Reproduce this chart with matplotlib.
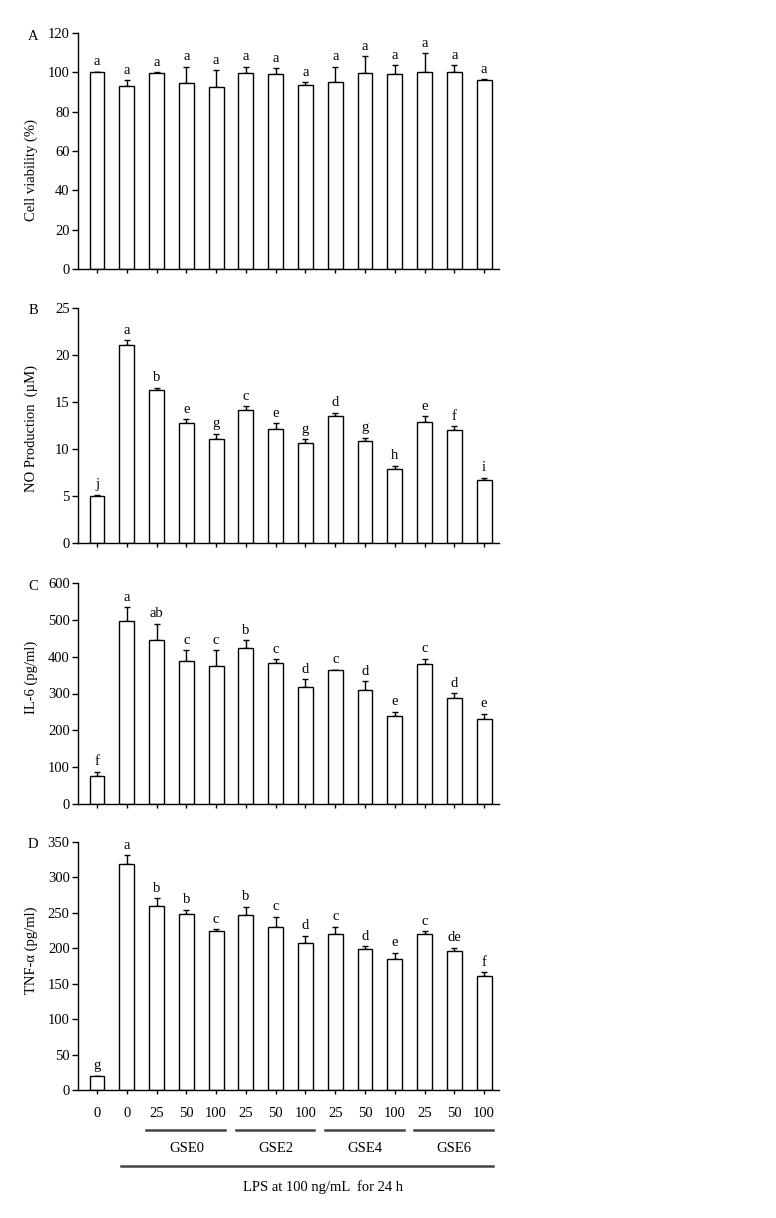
import numpy as np
import matplotlib
matplotlib.use("Agg")
import matplotlib.pyplot as plt

plt.rcParams['font.family'] = ['Liberation Serif', 'DejaVu Serif']

# data
dose_labels = ["0", "0", "25", "50", "100", "25", "50", "100",
               "25", "50", "100", "25", "50", "100"]
groups = ["GSE0", "GSE2", "GSE4", "GSE6"]

viab = [100, 93.0, 99.5, 94.6, 92.7, 99.5, 99.1, 93.5, 94.9, 99.8, 99.1, 100.3, 100.3, 96.1]
viab_err = [0.3, 2.9, 0.5, 8.3, 8.3, 3.4, 2.9, 1.4, 8.0, 8.3, 4.6, 9.5, 3.4, 0.5]
viab_let = ["a"] * 14

no = [5.04, 21.1, 16.3, 12.75, 11.1, 14.2, 12.15, 10.6, 13.5, 10.85, 7.9, 12.9, 12.05, 6.65]
no_err = [0.1, 0.45, 0.2, 0.4, 0.5, 0.35, 0.6, 0.45, 0.35, 0.35, 0.3, 0.6, 0.35, 0.3]
no_let = ["j", "a", "b", "e", "g", "c", "e", "g", "d", "g", "h", "e", "f", "i"]

il6 = [75, 498, 446, 389, 375, 424, 384, 317, 363, 309, 239, 381, 289, 231]
il6_err = [13, 36, 44, 29, 43, 20, 9, 22, 2, 25, 12, 14, 12, 14]
il6_let = ["f", "a", "ab", "c", "c", "b", "c", "d", "c", "d", "e", "c", "d", "e"]

tnf = [19.8, 319, 260, 248.6, 224.6, 247.6, 230.7, 207, 220.8, 199, 185, 219.9, 195.9, 160.5]
tnf_err = [0.5, 12, 10.5, 5.6, 2.4, 11, 14, 10.5, 9.4, 4.2, 8.5, 4.2, 4.7, 5.6]
tnf_let = ["g", "a", "b", "b", "c", "b", "c", "d", "c", "d", "e", "c", "de", "f"]

panels = [
    ("A", "Cell viability (%)", viab, viab_err, viab_let, 120, 20),
    ("B", "NO Production  (\u00b5M)", no, no_err, no_let, 25, 5),
    ("C", "IL-6 (pg/ml)", il6, il6_err, il6_let, 600, 100),
    ("D", "TNF-\u03b1 (pg/ml)", tnf, tnf_err, tnf_let, 350, 50),
]

W, H = 776, 1218
# axes boxes in pixels: top, bottom ; label y centre
boxes = [(33, 269, 170), (308, 543, 428), (583, 804, 677), (842, 1090, 950)]
panel_lab_y = [37, 311, 587, 845]
left_px, right_px = 78, 499
fs = 10.5

fig = plt.figure(figsize=(W / 100, H / 100), dpi=100)
x = np.arange(len(dose_labels))

axes = []
for (name, ylab, vals, err, lets, ymax, step), (top, bot, ly), ply in zip(panels, boxes, panel_lab_y):
    ax = fig.add_axes([left_px / W, 1 - bot / H, (right_px - left_px) / W, (bot - top) / H])
    ax.bar(x, vals, width=0.5, color="white", edgecolor="black", linewidth=1, zorder=2)
    ax.errorbar(x, vals, yerr=[np.zeros(len(err)), err], fmt="none", ecolor="black",
                elinewidth=1, capsize=2.5, capthick=1, zorder=1)
    for xi, v, e, l in zip(x, vals, err, lets):
        ax.annotate(l, (xi, v + e), xytext=(0, 2.5), textcoords="offset points",
                    ha="center", va="bottom", fontsize=fs)
    ax.set_xlim(-0.64, 13.5)
    ax.set_ylim(0, ymax)
    ax.set_yticks(np.arange(0, ymax + step / 2, step))
    ax.spines["top"].set_visible(False)
    ax.spines["right"].set_visible(False)
    ax.spines["left"].set_linewidth(1)
    ax.spines["bottom"].set_linewidth(1)
    ax.tick_params(axis="y", direction="out", length=4, width=1, pad=2, labelsize=fs)
    ax.tick_params(axis="x", direction="out", length=3, width=1, labelsize=fs)
    ax.set_xticks(x)
    ax.set_xticklabels([])
    fig.text(31 / W, 1 - ly / H, ylab, rotation=90, ha="center", va="center", fontsize=fs)
    fig.text(33 / W, 1 - ply / H, name, ha="center", va="center", fontsize=fs)
    axes.append(ax)

axd = axes[-1]
axd.set_xticklabels(dose_labels)
axd.tick_params(axis="x", pad=9)

# group annotation under the last panel
bot = boxes[-1][1]
hgt = boxes[-1][1] - boxes[-1][0]
tr = axd.get_xaxis_transform()
def yfrac(ypx):
    return (bot - ypx) / hgt

for k, g in enumerate(groups):
    c = 3 + 3 * k
    axd.plot([c - 1.35, c + 1.3], [yfrac(1130)] * 2, transform=tr, color="#444444",
             lw=1.8, clip_on=False)
    axd.text(c, yfrac(1148), g, transform=tr, ha="center", va="center", fontsize=fs)
axd.plot([0.8, 13.3], [yfrac(1166)] * 2, transform=tr, color="#444444", lw=1.8, clip_on=False)
axd.text(7.6, yfrac(1187), "LPS at 100 ng/mL  for 24 h", transform=tr, ha="center",
         va="center", fontsize=fs)

fig.savefig("out.png", dpi=100)
